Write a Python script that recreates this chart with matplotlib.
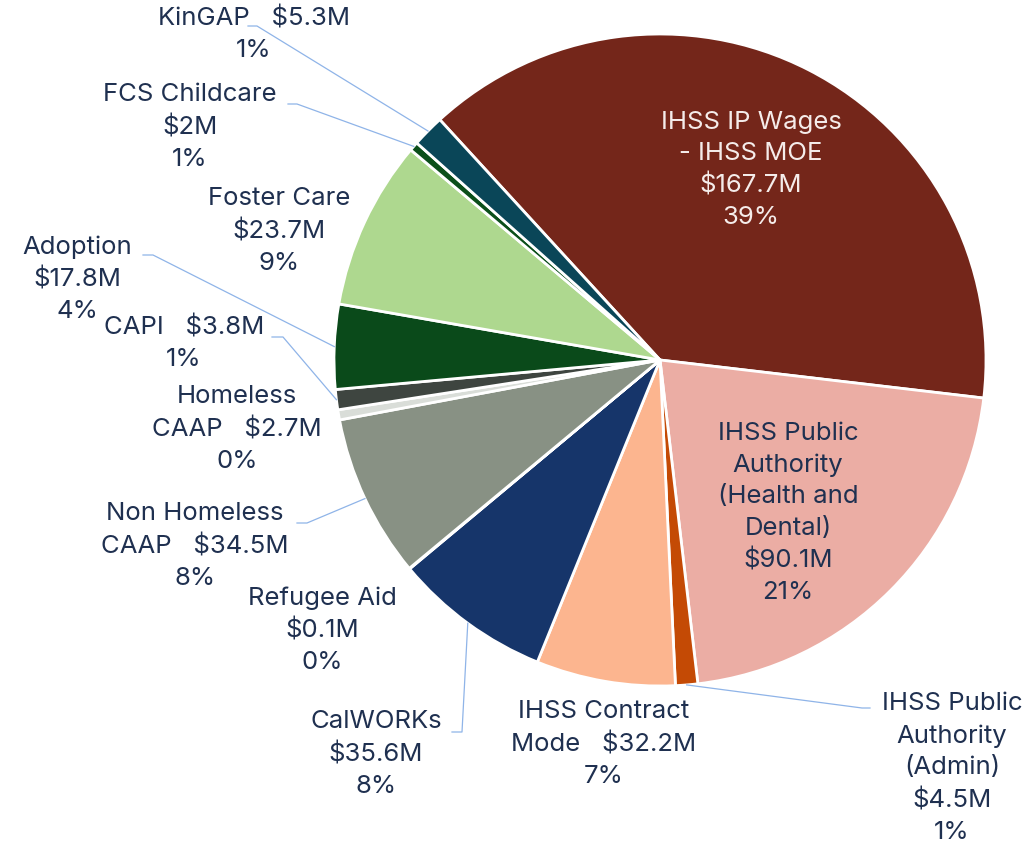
import numpy as np
import matplotlib.pyplot as plt

plt.rcParams['font.family'] = ['Inter', 'DejaVu Sans']

# slice data (clockwise, starting with IHSS IP Wages)
programs = ['IHSS IP Wages\n- IHSS MOE', 'IHSS Public\nAuthority\n(Health and\nDental)',
            'IHSS Public\nAuthority\n(Admin)', 'IHSS Contract\nMode', 'CalWORKs',
            'Refugee Aid', 'Non Homeless\nCAAP', 'Homeless\nCAAP', 'CAPI', 'Adoption',
            'Foster Care', 'FCS Childcare', 'KinGAP']
amounts = ['$167.7M', '$90.1M', '$4.5M', '$32.2M', '$35.6M', '$0.1M', '$34.5M',
           '$2.7M', '$3.8M', '$17.8M', '$23.7M', '$2M', '$5.3M']
pct_labels = ['39%', '21%', '1%', '7%', '8%', '0%', '8%', '0%', '1%', '4%', '9%', '1%', '1%']
# share of the pie (percent)
shares = [38.7, 21.3, 1.1, 6.9, 7.8, 0.03, 8.1, 0.5, 1.0, 4.2, 8.4, 0.45, 1.6]

colors = ['#74261A', '#EBADA4', '#C44A05', '#FCB58F', '#16356A', '#6A7FA8', '#889184',
          '#D9DDD8', '#3E4540', '#0A4A1A', '#AED88F', '#0B4F1A', '#0A4658']

W, H = 1035, 848
CX, CY, R = 660, 360, 326
TEXT = '#1F3050'
LEADER = '#8FB4E8'

# label layout in pixels from the top-left: (x, y, separator between name and amount)
label_pos = [(751, 170, '\n'), (788, 513, '\n'), (952, 768, '\n'), (604, 744, '   '),
             (376, 754, '\n'), (322, 630, '\n'), (195, 546, '   '), (237, 429, '   '),
             (184, 343, '   '), (77, 279, '\n'), (279, 231, '\n'), (190, 127, '\n'),
             (254, 34, '   ')]
# leader lines: label end point, elbow point
leaders = {2: ((870, 708), (862, 708)), 4: ((452, 732), (462, 732)),
           6: ((297, 523), (307, 523)), 8: ((272, 337), (283, 337)),
           9: ((143, 255), (153, 255)), 11: ((288, 104), (297, 104)),
           12: ((248, 26), (257, 26))}

fig = plt.figure(figsize=(W / 100, H / 100), dpi=100)
ax = fig.add_axes([0, 0, 1, 1])

wedges, _ = ax.pie(shares, colors=colors, startangle=132.5, counterclock=False,
                   center=(CX, H - CY), radius=R,
                   wedgeprops=dict(edgecolor='white', linewidth=2))

for i, (x, y, sep) in enumerate(label_pos):
    name = programs[i]
    if sep != '\n':
        # last line of the name shares a line with the amount
        text = name + sep + amounts[i] + '\n' + pct_labels[i]
    else:
        text = name + '\n' + amounts[i] + '\n' + pct_labels[i]
    col = '#F5ECEA' if i == 0 else TEXT
    ax.text(x, H - y, text, ha='center', va='center', multialignment='center',
            fontsize=18.5, color=col, linespacing=1.47)

for i, (p0, p1) in leaders.items():
    w = wedges[i]
    mid = np.deg2rad((w.theta1 + w.theta2) / 2)
    ex = CX + R * np.cos(mid)
    ey = H - CY + R * np.sin(mid)
    ax.plot([p0[0], p1[0], ex], [H - p0[1], H - p1[1], ey], color=LEADER, lw=0.9,
            solid_joinstyle='round')

ax.set_xlim(0, W)
ax.set_ylim(0, H)
ax.set_aspect('equal')
ax.axis('off')

fig.savefig('out.png', dpi=100)
